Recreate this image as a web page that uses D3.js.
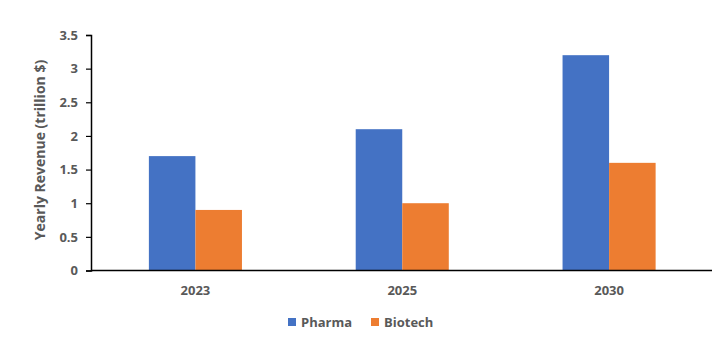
<!DOCTYPE html>
<html>
<head>
<meta charset="utf-8">
<script src="https://cdn.jsdelivr.net/npm/d3@7"></script>
<style>
  html, body { margin: 0; padding: 0; background: #fff; }
  svg { display: block; }
  text { font-family: "Open Sans", "Liberation Sans", sans-serif; font-weight: bold; fill: #595959; }
</style>
</head>
<body>
<svg id="chart" width="720" height="346"></svg>
<script>
const categories = ["2023", "2025", "2030"];
const seriesNames = ["Pharma", "Biotech"];
const pharma = [1.7, 2.1, 3.2];
const biotech = [0.9, 1.0, 1.6];
const yTicks = [0, 0.5, 1, 1.5, 2, 2.5, 3, 3.5];
const colors = ["#4472C4", "#ED7D31"];

(function () {
const svg = d3.select("#chart");
const mLeft = 91, mRight = 712, mTop = 35, mBottom = 270.5;

const x = d3.scaleBand().domain(categories).range([mLeft + 1, mRight + 0.5])
  .paddingInner(0.55).paddingOuter(0.275);
const x1 = d3.scaleBand().domain(seriesNames).range([0, x.bandwidth()]).padding(0);
const y = d3.scaleLinear().domain([0, 3.5]).range([mBottom, mTop]);

const data = categories.map((c, i) => ({ cat: c, values: [pharma[i], biotech[i]] }));

// bars
const g = svg.append("g");
data.forEach(d => {
  d.values.forEach((v, j) => {
    g.append("rect")
      .attr("x", x(d.cat) + x1(seriesNames[j]))
      .attr("y", y(v))
      .attr("width", x1.bandwidth())
      .attr("height", y(0) - y(v))
      .attr("fill", colors[j]);
  });
});

// y axis
const yAxis = d3.axisLeft(y).tickValues(yTicks).tickSize(5).tickPadding(8)
  .tickFormat(d => String(d));
const ya = svg.append("g").attr("transform", `translate(${mLeft},0)`).call(yAxis);
ya.select(".domain").attr("stroke", "#000").attr("stroke-width", 1.5);
ya.selectAll(".tick line").attr("stroke", "#000").attr("stroke-width", 1.2);
ya.selectAll(".tick text").style("font-size", "13px").attr("fill", "#595959");

// x axis
const xAxis = d3.axisBottom(x).tickSize(0).tickPadding(15);
const xa = svg.append("g").attr("transform", `translate(0,${mBottom})`).call(xAxis);
xa.select(".domain").attr("stroke", "#000").attr("stroke-width", 1.5)
  .attr("d", `M${mLeft},0H${mRight}`);
xa.selectAll(".tick text").style("font-size", "13px").attr("fill", "#595959");

// y title
svg.append("text")
  .attr("transform", `translate(39,150) rotate(-90)`)
  .attr("text-anchor", "middle")
  .attr("dominant-baseline", "central")
  .style("font-size", "14px")
  .text("Yearly Revenue (trillion $)");

// legend
const legendX = [288, 371];
seriesNames.forEach((s, j) => {
  svg.append("rect").attr("x", legendX[j]).attr("y", 318).attr("width", 8).attr("height", 8).attr("fill", colors[j]);
  svg.append("text").attr("x", legendX[j] + 13).attr("y", 322)
    .attr("dominant-baseline", "central")
    .style("font-size", "13px").text(s);
});
})();
</script>
</body>
</html>
